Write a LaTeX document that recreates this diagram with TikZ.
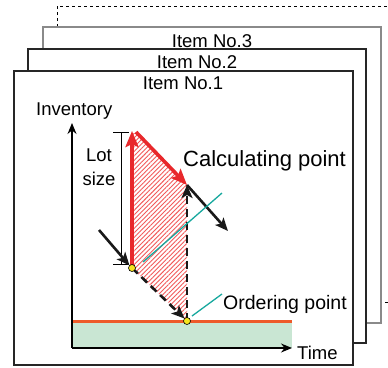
\documentclass[tikz,border=0pt]{standalone}
\usepackage{fontspec}
\setmainfont{Liberation Sans}
\definecolor{lotred}{HTML}{E8282B}
\definecolor{hatchred}{HTML}{F25A5A}
\definecolor{floorline}{HTML}{EE5A2A}
\definecolor{safety}{HTML}{C9E6D3}
\definecolor{leadteal}{HTML}{17A89E}
\definecolor{dotyellow}{HTML}{F6E51E}
\definecolor{backgray}{HTML}{8A8A8A}
\usetikzlibrary{arrows.meta, positioning, calc, patterns.meta}
\tikzset{
  sheet/.style={draw=black!85, fill=white, line width=1.1pt},
  lbl/.style={font=\fontsize{18.5}{24}\selectfont, inner sep=0pt},
  axis/.style={-{Stealth[length=11pt,width=9pt]}, line width=1.4pt},
  lotflow/.style={-{Stealth[length=16pt,width=13pt,inset=3pt]}, line width=3.6pt, color=lotred},
  useflow/.style={-{Stealth[length=13pt,width=11pt,inset=3pt]}, line width=2.6pt, color=black!90},
  leader/.style={draw=leadteal, line width=1.3pt},
  pt/.style={circle, draw=black, fill=dotyellow, line width=0.6pt, inner sep=0pt, minimum size=7pt},
}

\begin{document}
\begin{tikzpicture}[x=1pt,y=-1pt]
  \clip (0,0) rectangle (388,367);
  % stacked item sheets
  \draw[dashed,line width=1pt] (57,27)--(57,6)--(400,6)--(400,302)--(381,302);
  \draw[sheet,draw=backgray] (43,27) rectangle (381,323);
  \draw[sheet] (28,49) rectangle (366,343);
  \draw[sheet] (14,71) rectangle (353,365);
  \node[lbl,anchor=base] (item3) at (212,47) {Item No.3};
  \node[lbl,anchor=base] (item2) at (197,68) {Item No.2};
  \node[lbl,anchor=base] (item1) at (183,89) {Item No.1};

  % points of the chart
  \coordinate (o) at (72,348);
  \coordinate (invtop) at (72,123);
  \coordinate (timeend) at (292,348);
  \coordinate (peak) at (132,131);
  \coordinate (peakr) at (136,132);
  \coordinate (calc) at (187,185);
  \coordinate (usetip) at (228,231);
  \coordinate (usein) at (99,230);
  \coordinate (reorder) at (132,268);
  \coordinate (arrive) at (187,321);

  % safety stock
  \fill[safety] (72,321) rectangle (292,348);
  \draw[floorline,line width=3pt] (72,321)--(292,321);

  % stock consumed between the two points
  \fill[pattern={Lines[angle=45,distance=3.2pt,line width=0.9pt]},pattern color=hatchred]
    (132,133)--(136,133)--(calc)--(arrive)--(reorder)--cycle;

  \draw[axis] (o)--(invtop);
  \draw[axis] (o)--(timeend);
  \node[lbl,anchor=base west] (inv) at (36,115) {Inventory};
  \node[lbl,anchor=base west] (time) at (297,359) {Time};

  % lot size
  \draw[line width=0.8pt] (113,132)--(129,132) (121,132)--(121,264) (113,264)--(129,264);
  \node[lbl,align=center,anchor=base] (lot) at (99,185) {Lot\\size};
  \draw[lotflow] ($(reorder)+(0,-3)$)--(peak);
  \draw[lotflow] (peakr)--(calc);

  % usage
  \draw[useflow] (usein)--($(reorder)+(-2.5,-2.5)$);
  \draw[useflow,dash pattern=on 8pt off 5pt] (reorder)--($(arrive)+(-2.5,-2.5)$);
  \draw[useflow,dash pattern=on 8pt off 5pt] (arrive)--(calc);
  \draw[useflow] (calc)--(usetip);

  % leaders and labels
  \coordinate (calclead) at (222,193);
  \coordinate (ordlead) at (222,294);
  \draw[leader] (143,262)--(calclead);
  \draw[leader] (192,316)--(ordlead);
  \node[anchor=base west,inner sep=0pt,font=\fontsize{22}{26}\selectfont] (calcpt) at (183,166) {Calculating point};
  \node[anchor=base west,inner sep=0pt,font=\fontsize{19.5}{24}\selectfont] (ordpt) at (223,309) {Ordering point};
  \node[pt] (reorderdot) at (reorder) {};
  \node[pt] (arrivedot) at (arrive) {};
\end{tikzpicture}
\end{document}
